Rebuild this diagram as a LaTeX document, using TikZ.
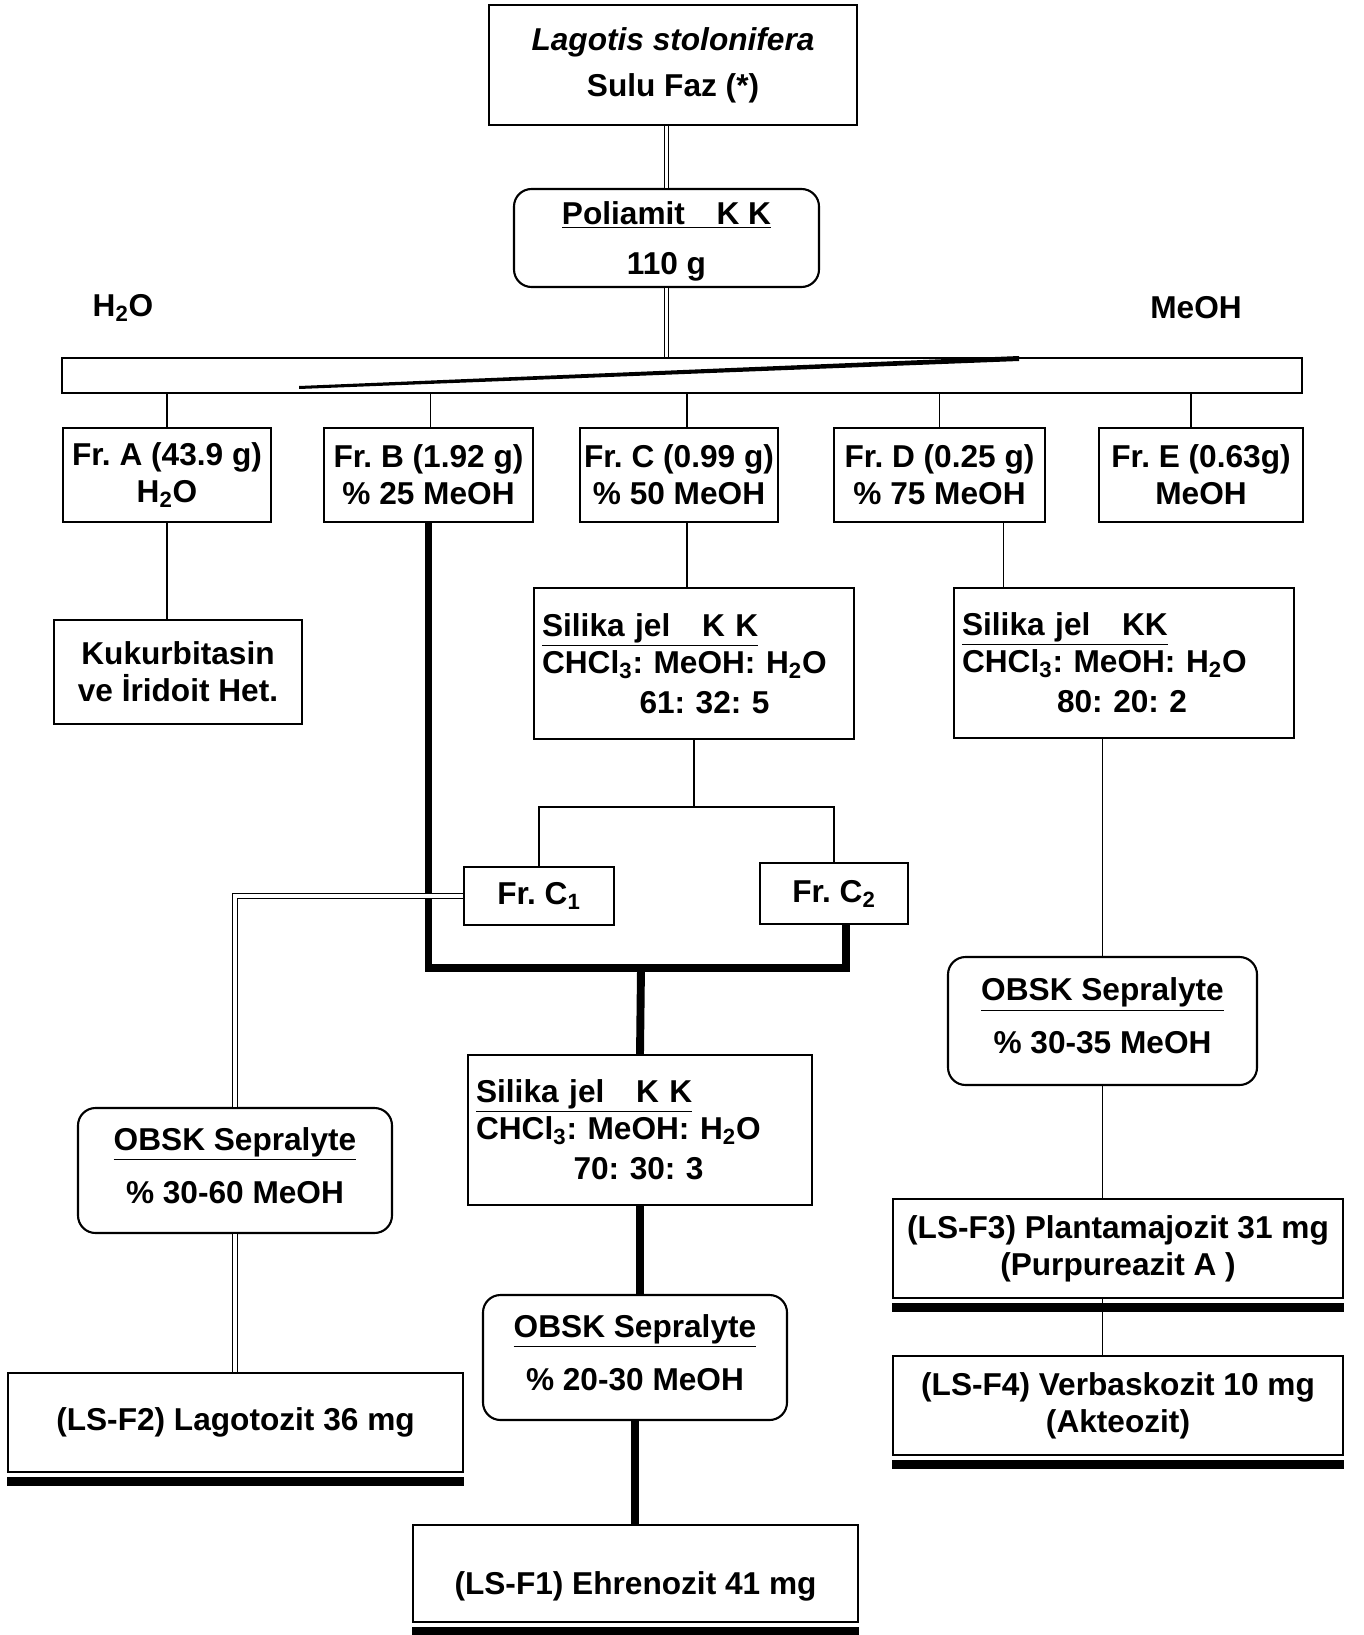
\documentclass[tikz,border=0pt]{standalone}
\usepackage{fontspec}
\setmainfont{Liberation Sans}
\usetikzlibrary{calc,positioning}

\begin{document}
\begin{tikzpicture}[x=0.02cm, y=-0.02cm,
  every node/.style={inner sep=0pt, font=\fontsize{18}{21}\selectfont\bfseries\frenchspacing},
  sz/.style 2 args={minimum width=#1*0.02cm, minimum height=#2*0.02cm},
  box/.style={draw, line width=1.2pt, align=center},
  rbox/.style={box, rounded corners=0.35cm, text depth=6pt},
  link/.style={line width=1pt},
  dbl/.style={double, double distance=2pt, line width=0.6pt},
  heavy/.style={line width=4.5pt}]
  \useasboundingbox (0,0) rectangle (1364,1635);
  % start and polyamide column
  \node[box, sz={368}{120}] (top) at (673,65) {\textit{Lagotis stolonifera}\\[5pt]Sulu Faz (*)};
  \node[rbox, sz={305}{98}, text depth=0pt] (pol) at (666.5,238) {\underline{Poliamit\quad K K}\\[7pt]110 g};
  \node (lblW) at (123,308) {H\textsubscript{2}O};
  \node (lblE) at (1196,308) {MeOH};
  \node[box, sz={1240}{35}] (bar) at (682,375.5) {};
  \fill (299,386) -- (1019,356) -- (1019,361) -- (299,389) -- cycle;
  \draw[dbl] (top.south -| pol.north) -- (pol.north);
  \draw[dbl] (pol.south) -- (pol.south |- bar.north);
  % fractions
  \foreach \n/\x/\w/\o/\m/\s in {A/167/208/0/{43.9 g}/{H\textsubscript{2}O},
      B/428.5/209/2/{1.92 g}/{\% 25 MeOH}, C/679/198/8/{0.99 g}/{\% 50 MeOH},
      D/939.5/211/0/{0.25 g}/{\% 75 MeOH}, E/1201/204/-10/{0.63g}/{MeOH}}{
    \node[box, sz={\w}{94}] (fr\n) at (\x,475) {Fr.~\n{} (\m)\\\s};
    \draw[link] ($(fr\n.north)+(\o,0)$) -- ($(fr\n.north |- bar.south)+(\o,0)$);
  }
  \node[box, sz={248}{104}] (kuk) at (178,672) {Kukurbitasin\\ve İridoit Het.};
  \node[box, sz={320}{151}, align=left, text width=6.08cm] (silC) at (694,663.5)
    {\underline{Silika jel\quad K K}\\CHCl\textsubscript{3}: MeOH: H\textsubscript{2}O\\[2pt]\hspace*{1.95cm}61: 32: 5};
  \node[box, sz={340}{150}, align=left, text width=6.48cm] (silD) at (1124,663)
    {\underline{Silika jel\quad KK}\\CHCl\textsubscript{3}: MeOH: H\textsubscript{2}O\\[2pt]\hspace*{1.9cm}80: 20: 2};
  \node[box, sz={150}{58}] (C1) at (539,896) {Fr. C\textsubscript{1}};
  \node[box, sz={148}{61}] (C2) at (834,893.5) {Fr. C\textsubscript{2}};
  \node[box, sz={344}{150}, align=left, text width=6.56cm] (silB) at (640,1130)
    {\underline{Silika jel\quad K K}\\CHCl\textsubscript{3}: MeOH: H\textsubscript{2}O\\[2pt]\hspace*{1.95cm}70: 30: 3};
  % sepralyte columns and products
  \node[rbox, sz={314}{125}] (oL) at (235,1170.5) {\underline{OBSK Sepralyte}\\[9pt]\% 30-60 MeOH};
  \node[rbox, sz={304}{125}] (oM) at (635,1357.5) {\underline{OBSK Sepralyte}\\[9pt]\% 20-30 MeOH};
  \node[rbox, sz={309}{128}] (oR) at (1102.5,1021) {\underline{OBSK Sepralyte}\\[9pt]\% 30-35 MeOH};
  \node[box, sz={455}{99}] (f2) at (235.5,1422.5) {(LS-F2) Lagotozit 36 mg};
  \node[box, sz={445}{97}, text height=28pt, text depth=4pt] (f1) at (635.5,1573.5) {(LS-F1) Ehrenozit 41 mg};
  \node[box, sz={450}{99}] (f3) at (1118,1248.5) {(LS-F3) Plantamajozit 31 mg\\(Purpureazit A )};
  \node[box, sz={450}{99}] (f4) at (1118,1405.5) {(LS-F4) Verbaskozit 10 mg\\(Akteozit)};
  \foreach \r in {f1,f2,f3,f4}
    \fill ($(\r.south west)+(0,4)$) rectangle ($(\r.south east)+(0,13)$);
  % connectors
  \draw[link] (frA.south) -- (frA.south |- kuk.north);
  \coordinate (cOut) at ($(frC.south)+(8,0)$);
  \draw[link] (cOut) -- (cOut |- silC.north);
  \coordinate (splitC) at ($(silC.south)+(0,67)$);
  \draw[link] (silC.south) -- (splitC);
  \draw[link] (C1.north) |- (splitC) -| (C2.north);
  \coordinate (dOut) at ($(frD.south)+(64,0)$);
  \draw[link] (dOut) -- (dOut |- silD.north);
  \draw[link] (oR.north |- silD.south) -- (oR.north);
  \draw[link] (oR.south) -- (oR.south |- f3.north);
  \draw[link] (oR.south |- f3.south) -- (oR.south |- f4.north);
  \coordinate (join) at (641,968);
  \coordinate (c2Out) at ($(C2.south)+(12,0)$);
  \draw[heavy, line join=miter] (frB.south) |- (join -| c2Out) -- (c2Out);
  \draw[heavy] (join) -- (silB.north);
  \draw[heavy] (silB.south) -- (silB.south |- oM.north);
  \draw[heavy] (oM.south) -- (oM.south |- f1.north);
  \draw[dbl] (C1.west) -| (oL.north);
  \draw[dbl] (oL.south) -- (oL.south |- f2.north);
\end{tikzpicture}
\end{document}
